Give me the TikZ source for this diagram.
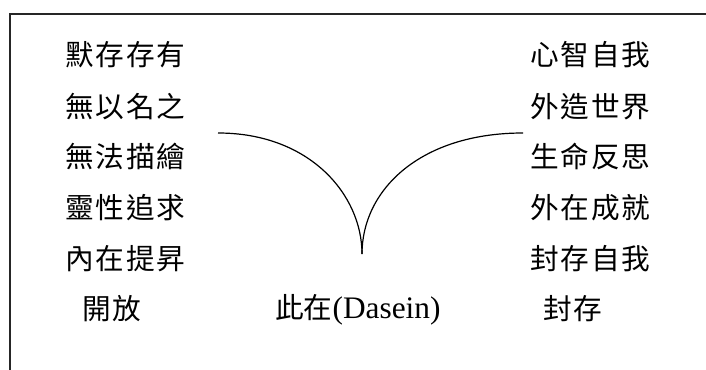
\documentclass[tikz,border=0pt]{standalone}
\usepackage{fontspec}
\setmainfont{Liberation Serif}
\newfontfamily\cjk[LetterSpace=6]{Noto Sans CJK TC}
\newfontfamily\cjkplain{Noto Sans CJK TC}
\begin{document}
\begin{tikzpicture}[x=0.75pt,y=-0.75pt,
  frameline/.style={line width=1.1pt,black!85},
  curveline/.style={line width=0.9pt},
  word/.style={anchor=base west,inner sep=0pt,font=\fontsize{21.5pt}{24pt}\cjk},
  latin/.style={anchor=base west,inner sep=0pt,font=\fontsize{23.5pt}{26pt}\selectfont}]
\useasboundingbox (0,0) rectangle (706,370);
\draw[frameline] (10,370) -- (10,14) -- (706,14);
% left column
\node[word] (l1) at (65,66) {默存存有};
\node[word] (l2) at (65,118) {無以名之};
\node[word] (l3) at (65,168) {無法描繪};
\node[word] (l4) at (65,219) {靈性追求};
\node[word] (l5) at (65,269) {內在提昇};
\node[word] (l6) at (82,319) {開放};
% right column
\node[word] (r1) at (530,66) {心智自我};
\node[word] (r2) at (530,118) {外造世界};
\node[word] (r3) at (530,168) {生命反思};
\node[word] (r4) at (530,219) {外在成就};
\node[word] (r5) at (530,269) {封存自我};
\node[word] (r6) at (543,319) {封存};
% centre
\node[latin] (da) at (275,318) {{\cjkplain\fontsize{21.5pt}{24pt}\selectfont 此在}(Dasein)};
% curves
\coordinate (L) at (218,133);
\coordinate (C) at (362,254);
\coordinate (R) at (523,133);
\draw[curveline] (L) .. controls (310,133) and (362,195) .. (C);
\draw[curveline] (C) .. controls (362,190) and (420,133) .. (R);
\end{tikzpicture}
\end{document}
